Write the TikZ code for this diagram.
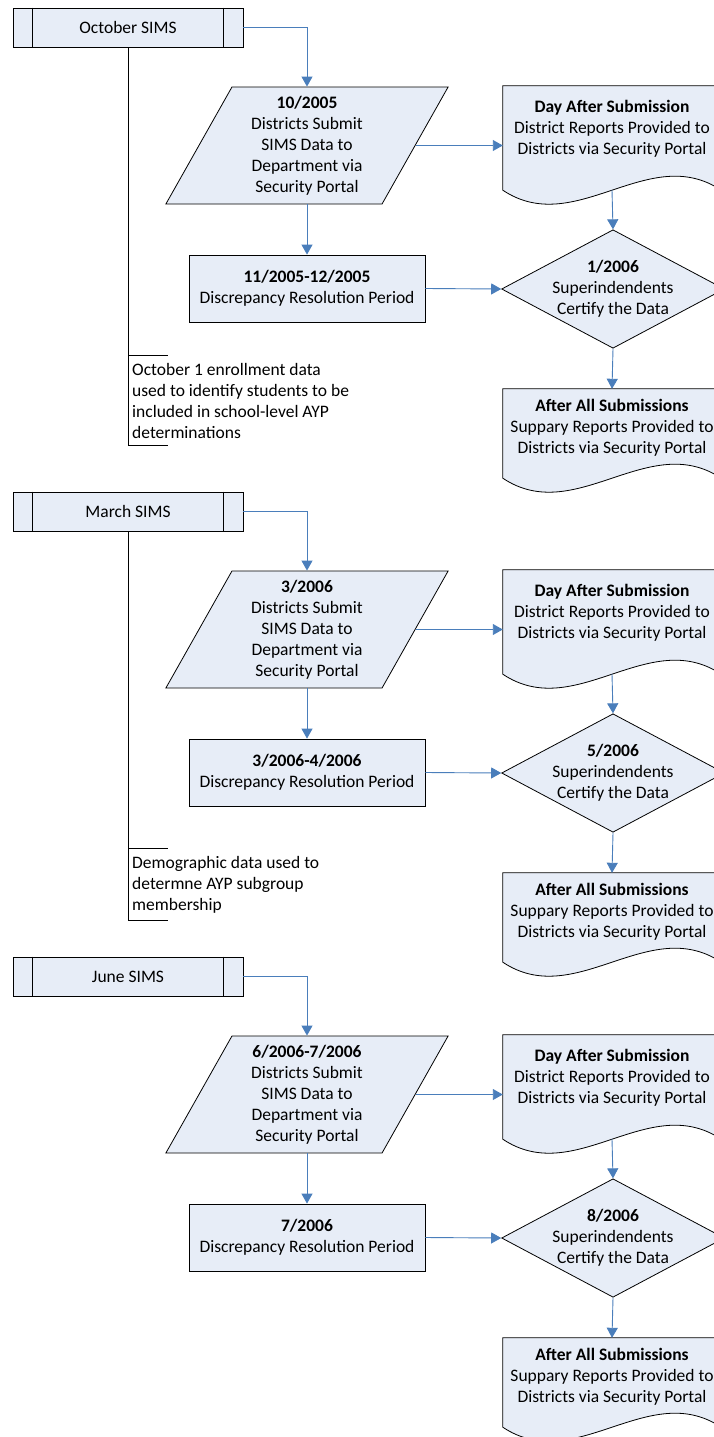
\documentclass[tikz,border=0pt]{standalone}
\usepackage{fontspec}
\setmainfont{Carlito}
\usetikzlibrary{shapes.geometric, arrows.meta, backgrounds, calc}

\definecolor{boxfill}{RGB}{231,237,247}
\definecolor{linkblue}{RGB}{74,126,187}

\tikzset{
  every node/.style={font=\fontsize{17.5}{21}\selectfont},
  shapeline/.style={draw=black, line width=0.8pt, fill=boxfill},
  simsbox/.style={shapeline, rectangle, minimum width=230pt, minimum height=39pt, inner sep=0pt},
  inputbox/.style={shapeline, trapezium, trapezium left angle=63.6, trapezium right angle=116.4,
    trapezium stretches=true, minimum width=283pt, minimum height=117pt, align=center, inner sep=0pt},
  procbox/.style={shapeline, rectangle, minimum width=236pt, minimum height=67pt, align=center, inner sep=0pt},
  decbox/.style={shapeline, diamond, aspect=1.88, minimum width=220pt, minimum height=117pt,
    align=center, inner sep=-1pt},
  docbox/.style={rectangle, minimum width=218pt, align=center, inner sep=0pt},
  notebox/.style={anchor=west, align=left, inner xsep=4pt, inner ysep=7.5pt},
  arrowline/.style={draw=linkblue, line width=0.9pt, -{Triangle[length=10pt,width=11pt]}},
}

\begin{document}
\begin{tikzpicture}[x=1pt, y=-1pt]

\useasboundingbox (0,0) rectangle (714,1437);

\node[simsbox] (oct) at (128,27.5) {October SIMS};
\node[inputbox] (par1) at (307,145.5) {\textbf{10/2005}\\Districts Submit\\SIMS Data to\\Department via\\Security Portal};
\node[docbox, minimum height=86pt] (day1) at (612,129) {\textbf{Day After Submission}\\District Reports Provided to\\Districts via Security Portal};
\node[procbox] (res1) at (307,288.5) {\textbf{11/2005-12/2005}\\Discrepancy Resolution Period};
\node[decbox] (cert1) at (613,289) {\textbf{1/2006}\\Superindendents\\Certify the Data};
\node[docbox, minimum height=78pt] (all1) at (612,428) {\textbf{After All Submissions}\\Suppary Reports Provided to\\Districts via Security Portal};
\node[notebox] (note1) at (128,400.5) {October 1 enrollment data\\used to identify students to be\\included in school-level AYP\\determinations};

\draw[arrowline] (oct.east) -| (par1.north -| par1.center);
\draw[arrowline] (par1.east) -- (par1.east -| day1.west);
\draw[arrowline] (par1.center |- par1.south) -- (res1.north);
\draw[arrowline] ([yshift=-18pt]day1.south) -- (cert1.north);
\draw[arrowline] (res1.east) -- (cert1.west);
\draw[arrowline] (cert1.south) -- (all1.north);
\draw[line width=0.8pt] (oct.south) -- (note1.north west) -- ++(40,0);
\draw[line width=0.8pt] (note1.north west) -- (note1.south west) -- ++(40,0);

\begin{scope}[yshift=-484pt]
\node[simsbox] (mar) at (128,27.5) {March SIMS};
\node[inputbox] (par2) at (307,145.5) {\textbf{3/2006}\\Districts Submit\\SIMS Data to\\Department via\\Security Portal};
\node[docbox, minimum height=86pt] (day2) at (612,129) {\textbf{Day After Submission}\\District Reports Provided to\\Districts via Security Portal};
\node[procbox] (res2) at (307,288.5) {\textbf{3/2006-4/2006}\\Discrepancy Resolution Period};
\node[decbox] (cert2) at (613,289) {\textbf{5/2006}\\Superindendents\\Certify the Data};
\node[docbox, minimum height=78pt] (all2) at (612,428) {\textbf{After All Submissions}\\Suppary Reports Provided to\\Districts via Security Portal};
\node[notebox] (note2) at (128,400.5) {Demographic data used to\\determne AYP subgroup\\membership};

\draw[arrowline] (mar.east) -| (par2.north -| par2.center);
\draw[arrowline] (par2.east) -- (par2.east -| day2.west);
\draw[arrowline] (par2.center |- par2.south) -- (res2.north);
\draw[arrowline] ([yshift=-18pt]day2.south) -- (cert2.north);
\draw[arrowline] (res2.east) -- (cert2.west);
\draw[arrowline] (cert2.south) -- (all2.north);
\draw[line width=0.8pt] (mar.south) -- (note2.north west) -- ++(40,0);
\draw[line width=0.8pt] (note2.north west) -- (note2.south west) -- ++(40,0);
\end{scope}

\begin{scope}[yshift=-949pt]
\node[simsbox] (jun) at (128,27.5) {June SIMS};
\node[inputbox] (par3) at (307,145.5) {\textbf{6/2006-7/2006}\\Districts Submit\\SIMS Data to\\Department via\\Security Portal};
\node[docbox, minimum height=86pt] (day3) at (612,129) {\textbf{Day After Submission}\\District Reports Provided to\\Districts via Security Portal};
\node[procbox] (res3) at (307,288.5) {\textbf{7/2006}\\Discrepancy Resolution Period};
\node[decbox] (cert3) at (613,289) {\textbf{8/2006}\\Superindendents\\Certify the Data};
\node[docbox, minimum height=78pt] (all3) at (612,428) {\textbf{After All Submissions}\\Suppary Reports Provided to\\Districts via Security Portal};

\draw[arrowline] (jun.east) -| (par3.north -| par3.center);
\draw[arrowline] (par3.east) -- (par3.east -| day3.west);
\draw[arrowline] (par3.center |- par3.south) -- (res3.north);
\draw[arrowline] ([yshift=-18pt]day3.south) -- (cert3.north);
\draw[arrowline] (res3.east) -- (cert3.west);
\draw[arrowline] (cert3.south) -- (all3.north);
\end{scope}

\foreach \n in {oct,mar,jun}
  \draw[line width=0.8pt] ([xshift=20pt]\n.north west) -- ([xshift=20pt]\n.south west)
    ([xshift=-20pt]\n.north east) -- ([xshift=-20pt]\n.south east);

\begin{pgfonlayer}{background}
\foreach \n/\d in {day1/18, all1/11, day2/18, all2/11, day3/18, all3/11}
  \draw[shapeline] (\n.north west) -- (\n.north east) -- ($(\n.south east)+(0,\d)$)
    .. controls ($(\n.south east)+(-72.7,\d-48.5)$) and ($(\n.south west)+(72.7,\d+48.5)$)
    .. ($(\n.south west)+(0,\d)$) -- cycle;
\end{pgfonlayer}

\end{tikzpicture}
\end{document}
